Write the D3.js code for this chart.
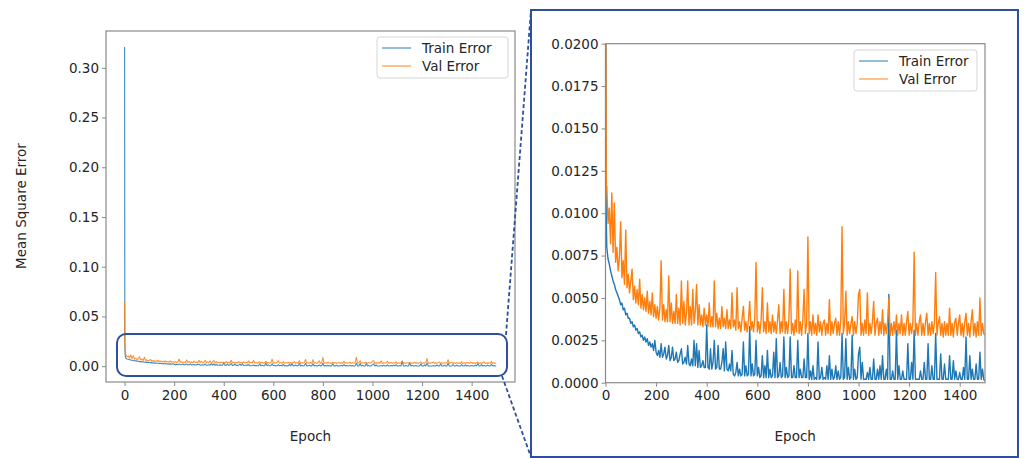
<!DOCTYPE html>
<html>
<head>
<meta charset="utf-8">
<script src="https://cdn.jsdelivr.net/npm/d3@7"></script>
<style>
  body { margin: 0; background: #fff; }
  text { font-family: "DejaVu Sans", sans-serif; fill: #262626; }
</style>
</head>
<body>
<svg id="fig" width="1024" height="458"></svg>
<script>
// Training history: mean square error per epoch (sampled every 5 epochs after the first few)
const epochs = [0, 1, 2, 3, 4, ...d3.range(5, 1500, 5), 1499];

const trainError = [
  0.3210, 0.0300, 0.0130, 0.0098, 0.0088,
  0.0080, 0.0073, 0.0070, 0.0066, 0.0063, 0.0060, 0.0058, 0.0055, 0.0053, 0.0051,
  0.0049, 0.0046, 0.0047, 0.0043, 0.0044, 0.0040, 0.0041, 0.0038, 0.0038, 0.0035,
  0.0036, 0.0033, 0.0034, 0.0031, 0.0032, 0.0029, 0.0030, 0.0027, 0.0028, 0.0025,
  0.0027, 0.0024, 0.0026, 0.0022, 0.0024, 0.0021, 0.0023, 0.0019, 0.0025, 0.0018,
  0.0016, 0.0019, 0.0015, 0.0023, 0.0015, 0.0017, 0.0021, 0.0014, 0.0016, 0.0022,
  0.0013, 0.0015, 0.0021, 0.0013, 0.0014, 0.0018, 0.0012, 0.0013, 0.0017, 0.0020,
  0.0011, 0.0012, 0.0015, 0.0011, 0.0022, 0.0011, 0.0010, 0.0014, 0.0010, 0.0025,
  0.0010, 0.0023, 0.0009, 0.0019, 0.0009, 0.0010, 0.0013, 0.0009, 0.0009, 0.0034,
  0.0009, 0.0008, 0.0020, 0.0008, 0.0012, 0.0025, 0.0008, 0.0009, 0.0022, 0.0008,
  0.0008, 0.0012, 0.0020, 0.0007, 0.0024, 0.0008, 0.0007, 0.0011, 0.0007, 0.0019,
  0.0005, 0.0004, 0.0006, 0.0012, 0.0004, 0.0008, 0.0004, 0.0005, 0.0024, 0.0004,
  0.0010, 0.0004, 0.0005, 0.0033, 0.0004, 0.0011, 0.0004, 0.0005, 0.0025, 0.0004,
  0.0009, 0.0003, 0.0004, 0.0016, 0.0003, 0.0010, 0.0003, 0.0019, 0.0003, 0.0008,
  0.0003, 0.0004, 0.0018, 0.0003, 0.0026, 0.0003, 0.0004, 0.0012, 0.0003, 0.0004,
  0.0027, 0.0003, 0.0009, 0.0003, 0.0004, 0.0027, 0.0003, 0.0003, 0.0010, 0.0003,
  0.0003, 0.0025, 0.0003, 0.0008, 0.0003, 0.0003, 0.0014, 0.0003, 0.0003, 0.0029,
  0.0002, 0.0007, 0.0002, 0.0010, 0.0002, 0.0003, 0.0002, 0.0024, 0.0002, 0.0003,
  0.0009, 0.0002, 0.0003, 0.0002, 0.0010, 0.0002, 0.0016, 0.0002, 0.0008, 0.0002,
  0.0003, 0.0010, 0.0002, 0.0007, 0.0002, 0.0003, 0.0029, 0.0002, 0.0003, 0.0026,
  0.0002, 0.0009, 0.0002, 0.0003, 0.0028, 0.0002, 0.0008, 0.0002, 0.0003, 0.0017,
  0.0021, 0.0002, 0.0012, 0.0002, 0.0002, 0.0002, 0.0006, 0.0002, 0.0009, 0.0002,
  0.0002, 0.0014, 0.0002, 0.0002, 0.0008, 0.0002, 0.0010, 0.0002, 0.0016, 0.0002,
  0.0002, 0.0008, 0.0002, 0.0052, 0.0002, 0.0002, 0.0007, 0.0002, 0.0002, 0.0031,
  0.0002, 0.0010, 0.0002, 0.0002, 0.0007, 0.0002, 0.0002, 0.0002, 0.0023, 0.0002,
  0.0002, 0.0012, 0.0002, 0.0031, 0.0002, 0.0002, 0.0002, 0.0002, 0.0007, 0.0002,
  0.0002, 0.0012, 0.0002, 0.0002, 0.0023, 0.0002, 0.0002, 0.0010, 0.0002, 0.0002,
  0.0029, 0.0002, 0.0002, 0.0002, 0.0017, 0.0002, 0.0002, 0.0011, 0.0002, 0.0002,
  0.0002, 0.0016, 0.0002, 0.0002, 0.0013, 0.0002, 0.0007, 0.0002, 0.0002, 0.0006,
  0.0002, 0.0002, 0.0009, 0.0002, 0.0027, 0.0002, 0.0002, 0.0016, 0.0002, 0.0008,
  0.0002, 0.0002, 0.0011, 0.0002, 0.0002, 0.0018, 0.0002, 0.0008, 0.0002, 0.0001
];

const valError = [
  0.0647, 0.0210, 0.0176, 0.0125, 0.0113,
  0.0116, 0.0094, 0.0103, 0.0082, 0.0112, 0.0077, 0.0106, 0.0071, 0.0080, 0.0066,
  0.0074, 0.0095, 0.0062, 0.0072, 0.0058, 0.0090, 0.0056, 0.0064, 0.0053, 0.0060,
  0.0067, 0.0049, 0.0057, 0.0047, 0.0055, 0.0046, 0.0061, 0.0044, 0.0052, 0.0043,
  0.0050, 0.0042, 0.0054, 0.0041, 0.0048, 0.0040, 0.0053, 0.0039, 0.0046, 0.0038,
  0.0045, 0.0037, 0.0044, 0.0072, 0.0037, 0.0046, 0.0036, 0.0043, 0.0036, 0.0063,
  0.0036, 0.0047, 0.0035, 0.0042, 0.0035, 0.0052, 0.0035, 0.0044, 0.0034, 0.0060,
  0.0035, 0.0048, 0.0034, 0.0041, 0.0060, 0.0034, 0.0045, 0.0034, 0.0055, 0.0035,
  0.0042, 0.0058, 0.0034, 0.0046, 0.0034, 0.0040, 0.0033, 0.0044, 0.0034, 0.0040,
  0.0033, 0.0047, 0.0033, 0.0039, 0.0033, 0.0060, 0.0033, 0.0041, 0.0032, 0.0038,
  0.0032, 0.0045, 0.0033, 0.0038, 0.0032, 0.0043, 0.0032, 0.0037, 0.0032, 0.0053,
  0.0033, 0.0037, 0.0031, 0.0056, 0.0032, 0.0036, 0.0030, 0.0038, 0.0045, 0.0031,
  0.0036, 0.0030, 0.0037, 0.0048, 0.0031, 0.0036, 0.0030, 0.0038, 0.0071, 0.0030,
  0.0036, 0.0029, 0.0037, 0.0056, 0.0030, 0.0036, 0.0029, 0.0047, 0.0030, 0.0036,
  0.0029, 0.0040, 0.0030, 0.0036, 0.0029, 0.0037, 0.0046, 0.0029, 0.0036, 0.0030,
  0.0055, 0.0029, 0.0036, 0.0029, 0.0038, 0.0067, 0.0029, 0.0035, 0.0028, 0.0037,
  0.0030, 0.0066, 0.0029, 0.0036, 0.0028, 0.0037, 0.0055, 0.0029, 0.0035, 0.0086,
  0.0029, 0.0036, 0.0028, 0.0040, 0.0029, 0.0035, 0.0028, 0.0040, 0.0030, 0.0036,
  0.0028, 0.0035, 0.0037, 0.0028, 0.0035, 0.0029, 0.0049, 0.0028, 0.0036, 0.0029,
  0.0035, 0.0038, 0.0028, 0.0036, 0.0028, 0.0037, 0.0092, 0.0029, 0.0035, 0.0054,
  0.0028, 0.0036, 0.0029, 0.0035, 0.0039, 0.0028, 0.0036, 0.0029, 0.0035, 0.0052,
  0.0055, 0.0028, 0.0035, 0.0028, 0.0037, 0.0029, 0.0053, 0.0028, 0.0035, 0.0029,
  0.0036, 0.0048, 0.0028, 0.0035, 0.0038, 0.0028, 0.0036, 0.0029, 0.0043, 0.0028,
  0.0035, 0.0029, 0.0036, 0.0050, 0.0028, 0.0035, 0.0028, 0.0036, 0.0029, 0.0040,
  0.0028, 0.0035, 0.0029, 0.0040, 0.0028, 0.0035, 0.0028, 0.0036, 0.0042, 0.0028,
  0.0035, 0.0029, 0.0036, 0.0077, 0.0028, 0.0035, 0.0028, 0.0036, 0.0040, 0.0028,
  0.0035, 0.0028, 0.0036, 0.0041, 0.0028, 0.0035, 0.0028, 0.0036, 0.0029, 0.0035,
  0.0065, 0.0028, 0.0035, 0.0039, 0.0028, 0.0035, 0.0027, 0.0036, 0.0028, 0.0035,
  0.0028, 0.0044, 0.0028, 0.0035, 0.0027, 0.0036, 0.0038, 0.0028, 0.0035, 0.0040,
  0.0028, 0.0035, 0.0027, 0.0036, 0.0041, 0.0028, 0.0035, 0.0027, 0.0036, 0.0043,
  0.0028, 0.0035, 0.0027, 0.0036, 0.0028, 0.0050, 0.0028, 0.0035, 0.0029, 0.0028
];

const seriesNames = ["Train Error", "Val Error"];
const seriesColors = ["#1f77b4", "#ff7f0e"];

const epochTicks = [0, 200, 400, 600, 800, 1000, 1200, 1400];
const overviewYTicks = [0.00, 0.05, 0.10, 0.15, 0.20, 0.25, 0.30];
const detailYTicks = [0.0000, 0.0025, 0.0050, 0.0075, 0.0100, 0.0125, 0.0150, 0.0175, 0.0200];

const xLabel = "Epoch";
const yLabel = "Mean Square Error";

const series = [trainError, valError].map((vals, i) => ({
  name: seriesNames[i],
  color: seriesColors[i],
  points: epochs.map((e, j) => ({ epoch: e, value: vals[j] }))
}));

const svg = d3.select("#fig");
const frameBlue = "#2d4f9e";
const spineGray = "#8a8a8a";
const fontSize = "13.5px";

function drawPanel(cfg) {
  const { left, right, top, bottom, xDomain, yDomain, yTicks, yFormat,
          lineWidth, lineOpacity, legend, id } = cfg;
  const x = d3.scaleLinear().domain(xDomain).range([left, right]);
  const y = d3.scaleLinear().domain(yDomain).range([bottom, top]);
  const g = svg.append("g");

  g.append("clipPath").attr("id", id)
    .append("rect").attr("x", left).attr("y", top)
    .attr("width", right - left).attr("height", bottom - top);

  const line = d3.line().x(d => x(d.epoch)).y(d => y(d.value));
  const lines = g.append("g").attr("clip-path", `url(#${id})`);
  series.forEach(s => {
    lines.append("path").datum(s.points)
      .attr("d", line)
      .attr("fill", "none")
      .attr("stroke", s.color)
      .attr("stroke-opacity", lineOpacity)
      .attr("stroke-width", lineWidth)
      .attr("stroke-linejoin", "round");
  });

  // axes
  const xAxis = g.append("g").attr("transform", `translate(0,${bottom})`)
    .call(d3.axisBottom(x).tickValues(epochTicks).tickSize(4).tickPadding(4).tickFormat(d3.format("d")));
  const yAxis = g.append("g").attr("transform", `translate(${left},0)`)
    .call(d3.axisLeft(y).tickValues(yTicks).tickSize(4).tickPadding(3).tickFormat(d3.format(yFormat)));
  [xAxis, yAxis].forEach(a => {
    a.select(".domain").remove();
    a.selectAll(".tick line").attr("stroke", spineGray);
    a.selectAll(".tick text").attr("fill", "#262626")
      .style("font-family", '"DejaVu Sans", sans-serif').style("font-size", fontSize);
  });

  // spines
  g.append("rect").attr("x", left).attr("y", top)
    .attr("width", right - left).attr("height", bottom - top)
    .attr("fill", "none").attr("stroke", spineGray).attr("stroke-width", 1.2);

  // x label
  g.append("text").attr("x", (left + right) / 2).attr("y", 441)
    .attr("text-anchor", "middle").style("font-size", fontSize).text(xLabel);

  // legend
  const lg = g.append("g").attr("transform", `translate(${legend.x},${legend.y})`);
  lg.append("rect").attr("x", 0).attr("y", 0)
    .attr("width", legend.w).attr("height", 41).attr("rx", 3)
    .attr("fill", "#fff").attr("fill-opacity", 0.8)
    .attr("stroke", "#d6d6d6").attr("stroke-width", 1);
  series.forEach((s, i) => {
    const cy = 11 + i * 18;
    lg.append("line").attr("x1", 5).attr("x2", 34).attr("y1", cy).attr("y2", cy)
      .attr("stroke", s.color).attr("stroke-width", 1.3).attr("stroke-opacity", 0.75);
    lg.append("text").attr("x", 45).attr("y", cy).attr("dy", "0.35em")
      .style("font-size", fontSize).text(s.name);
  });
  return { x, y };
}

// overview panel
drawPanel({
  id: "clip-overview",
  left: 106, right: 515, top: 31, bottom: 382,
  xDomain: [-75, 1574.95], yDomain: [-0.0159, 0.337],
  yTicks: overviewYTicks, yFormat: ".2f",
  lineWidth: 1.1, lineOpacity: 0.85,
  legend: { x: 377, y: 37, w: 131 }
});

// y label of the overview panel
svg.append("text")
  .attr("transform", "translate(26,206) rotate(-90)")
  .attr("text-anchor", "middle").style("font-size", fontSize).text(yLabel);

// detail panel
drawPanel({
  id: "clip-detail",
  left: 605.5, right: 985, top: 43.7, bottom: 382.7,
  xDomain: [0, 1500], yDomain: [0, 0.02],
  yTicks: detailYTicks, yFormat: ".4f",
  lineWidth: 1.4, lineOpacity: 1,
  legend: { x: 854, y: 50, w: 123 }
});

// highlight of the low-error region on the overview panel
svg.append("rect")
  .attr("x", 117).attr("y", 334).attr("width", 390).attr("height", 42)
  .attr("rx", 9).attr("fill", "none")
  .attr("stroke", frameBlue).attr("stroke-width", 2);

// frame around the detail panel
svg.append("rect")
  .attr("x", 531).attr("y", 10).attr("width", 487).attr("height", 447)
  .attr("fill", "none").attr("stroke", frameBlue).attr("stroke-width", 2);

// dashed connectors between highlight and frame
[[506, 335, 531, 10], [502, 376, 531, 457]].forEach(([x1, y1, x2, y2]) => {
  svg.append("line")
    .attr("x1", x1).attr("y1", y1).attr("x2", x2).attr("y2", y2)
    .attr("stroke", frameBlue).attr("stroke-width", 1.8)
    .attr("stroke-dasharray", "4,2.5");
});
</script>
</body>
</html>
